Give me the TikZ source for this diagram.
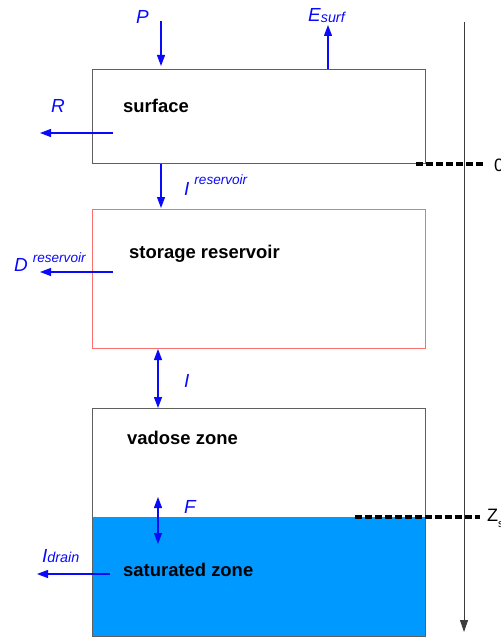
\documentclass[tikz,border=0pt]{standalone}
\usepackage{fontspec}
\setmainfont{Liberation Sans}
\usetikzlibrary{arrows.meta}
\definecolor{flowblue}{RGB}{10,10,250}
\definecolor{boxgray}{RGB}{95,95,95}
\definecolor{resred}{RGB}{250,110,110}
\definecolor{water}{RGB}{0,153,255}
\definecolor{axisgray}{RGB}{60,60,60}
\begin{document}
\begin{tikzpicture}[x=1bp,y=-1bp,
  layer/.style={draw=boxgray, line width=1bp, inner sep=0, minimum width=333bp, anchor=north west},
  zonelabel/.style={font=\fontsize{18.5}{20}\selectfont\bfseries, anchor=base west, inner sep=0},
  flux/.style={draw=flowblue, line width=1.2bp, -{Triangle[length=11bp,width=8bp]}},
  fluxboth/.style={draw=flowblue, line width=1.2bp, {Triangle[length=11bp,width=8bp]}-{Triangle[length=11bp,width=8bp]}},
  fluxlabel/.style={text=flowblue, font=\fontsize{19}{21}\selectfont\itshape, anchor=base west, inner sep=0},
  level/.style={line width=3.4bp, dash pattern=on 6.5bp off 3.5bp},
  depth/.style={draw=axisgray, line width=1bp, -{Triangle[length=12bp,width=8bp]}},
  marklabel/.style={font=\fontsize{18}{20}\selectfont, anchor=base west, inner sep=0}]
\useasboundingbox (0,0) rectangle (501,639);
\clip (0,0) rectangle (501,639);

% compartments
\node[fill=water, inner sep=0, minimum width=333bp, minimum height=119bp, anchor=north west] (saturated) at (92,517) {};
\node[layer, minimum height=94bp] (surface) at (92,69) {};
\node[layer, draw=resred, minimum height=139bp] (reservoir) at (92,209) {};
\node[layer, minimum height=228bp] (soil) at (92,408) {};

% compartment names
\node[zonelabel] (tsurface) at (123,113) {surface};
\node[zonelabel] (treservoir) at (129,258) {storage reservoir};
\node[zonelabel] (tvadose) at (127,444) {vadose zone};
\node[zonelabel] (tsaturated) at (123,576) {saturated zone};

% flux end points
\coordinate (pstart) at (161,21);
\coordinate (ptip) at (161,66);
\coordinate (estart) at (328,69);
\coordinate (etip) at (328,25);
\coordinate (rstart) at (113,133);
\coordinate (rtip) at (40,133);
\coordinate (istart) at (161,164);
\coordinate (itip) at (161,208);
\coordinate (dstart) at (113,272);
\coordinate (dtip) at (40,272);
\coordinate (itop) at (158,349);
\coordinate (ibot) at (158,408);
\coordinate (ftop) at (158,497);
\coordinate (fbot) at (158,544);
\coordinate (drstart) at (110,574);
\coordinate (drtip) at (37,574);

% fluxes
\draw[flux] (pstart) -- (ptip);
\draw[flux] (estart) -- (etip);
\draw[flux] (rstart) -- (rtip);
\draw[flux] (istart) -- (itip);
\draw[flux] (dstart) -- (dtip);
\draw[fluxboth] (itop) -- (ibot);
\draw[fluxboth] (ftop) -- (fbot);
\draw[flux] (drstart) -- (drtip);

% flux names
\node[fluxlabel] (lp) at (136,24) {P};
\node[fluxlabel] (le) at (308,22) {E\raisebox{-1bp}{\fontsize{14.4}{15}\selectfont surf}};
\node[fluxlabel] (lr) at (51,113) {R};
\node[fluxlabel] (li) at (184,195) {I\hspace{5bp}\raisebox{10bp}{\fontsize{13.6}{15}\selectfont reservoir}};
\node[fluxlabel] (ld) at (14,271) {D\hspace{5bp}\raisebox{9bp}{\fontsize{13.6}{15}\selectfont reservoir}};
\node[fluxlabel] (lii) at (184,387) {I};
\node[fluxlabel] (lf) at (184,513) {F};
\node[fluxlabel] (ldr) at (42,562) {I\fontsize{14.4}{15}\selectfont drain};

% depth axis and reference levels
\coordinate (atop) at (464,22);
\coordinate (abot) at (464,632);
\draw[depth] (atop) -- (abot);
\coordinate (zl) at (416,164);
\coordinate (zr) at (483,164);
\coordinate (sl) at (355,517);
\coordinate (sr) at (480,517);
\draw[level] (zl) -- (zr);
\draw[level] (sl) -- (sr);
\node[marklabel] (lzero) at (494,172) {0};
\node[marklabel] (lzs) at (487,521) {Z\raisebox{-6bp}{\fontsize{11}{12}\selectfont s}};
\end{tikzpicture}
\end{document}
